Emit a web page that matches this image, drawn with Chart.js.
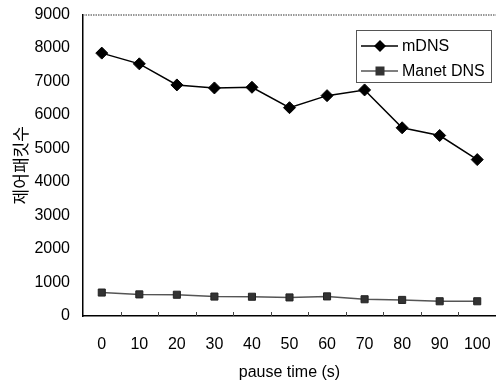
<!DOCTYPE html>
<html><head><meta charset="utf-8">
<script src="https://cdn.jsdelivr.net/npm/chart.js@4/dist/chart.umd.min.js"></script>
<style>html,body{margin:0;padding:0;background:#fff}canvas{display:block}</style>
</head><body>
<canvas id="c" width="496" height="387"></canvas>
<script>
const categories = ['0','10','20','30','40','50','60','70','80','90','100'];
const mdns = [7850, 7530, 6900, 6810, 6830, 6220, 6580, 6750, 5620, 5390, 4670];
const manetDns = [700, 645, 635, 580, 575, 555, 585, 500, 480, 440, 440];
const yTicks = [0,1000,2000,3000,4000,5000,6000,7000,8000,9000];
const seriesNames = ['mDNS', 'Manet DNS'];

const FONT = '"Liberation Sans Narrow","Liberation Sans",Arial,sans-serif';

const frame = {
  id: 'frame',
  afterDatasetsDraw(chart) {
    const {ctx, chartArea: a, scales: {x}} = chart;
    ctx.save();
    ctx.strokeStyle = '#777';
    ctx.lineWidth = 1.5;
    ctx.setLineDash([1.5, 1]);
    ctx.beginPath(); ctx.moveTo(a.left, a.top + 0.5); ctx.lineTo(a.right, a.top + 0.5); ctx.stroke();
    ctx.setLineDash([]);
    ctx.strokeStyle = '#444'; ctx.lineWidth = 1;
    for (let i = 1; i < categories.length; i++) {
      const px = Math.round(x.getPixelForValue(i - 0.5)) + 0.5;
      ctx.beginPath(); ctx.moveTo(px, a.bottom); ctx.lineTo(px, a.bottom - 4); ctx.stroke();
    }
    const bx = 356, by = 30, bw = 135, bh = 52;
    ctx.fillStyle = '#fff';
    ctx.fillRect(bx, by, bw, bh);
    ctx.strokeStyle = '#555'; ctx.lineWidth = 1;
    ctx.strokeRect(bx + 0.5, by + 0.5, bw, bh);
    chart.data.datasets.forEach((ds, i) => {
      const yy = by + 16 + i * 25;
      ctx.strokeStyle = ds.borderColor; ctx.lineWidth = ds.borderWidth;
      ctx.beginPath(); ctx.moveTo(bx + 5, yy); ctx.lineTo(bx + 42, yy); ctx.stroke();
      ctx.fillStyle = ds.pointBackgroundColor;
      const cx = bx + 24;
      if (ds.pointStyle === 'rectRot') {
        ctx.beginPath(); ctx.moveTo(cx, yy - 6); ctx.lineTo(cx + 6, yy); ctx.lineTo(cx, yy + 6); ctx.lineTo(cx - 6, yy); ctx.closePath(); ctx.fill();
      } else {
        ctx.fillRect(cx - 4.5, yy - 4.5, 9, 9);
      }
      ctx.fillStyle = '#000';
      ctx.font = '16px ' + FONT;
      ctx.textBaseline = 'middle';
      ctx.fillText(ds.label, bx + 46, yy + 1);
    });
    ctx.restore();
  }
};

new Chart(document.getElementById('c'), {
  type: 'line',
  data: {
    labels: categories,
    datasets: [
      { label: seriesNames[0], data: mdns, borderColor: '#000', borderWidth: 1.5,
        pointStyle: 'rectRot', pointRadius: 6, pointBackgroundColor: '#000', pointBorderColor: '#000', pointBorderWidth: 1 },
      { label: seriesNames[1], data: manetDns, borderColor: '#555', borderWidth: 1.5,
        pointStyle: 'rect', pointRadius: 5, pointBackgroundColor: '#333', pointBorderColor: '#222', pointBorderWidth: 1 }
    ]
  },
  options: {
    responsive: false, animation: false,
    layout: { autoPadding: false, padding: { top: 6, right: 0, left: 0, bottom: 0 } },
    plugins: { legend: { display: false }, tooltip: { enabled: false } },
    scales: {
      x: {
        type: 'category', offset: true,
        grid: { display: false, offset: true },
        border: { display: true, color: '#000', width: 1.5 },
        ticks: { color: '#000', font: { family: FONT, size: 16 }, padding: 11, maxRotation: 0 },
        title: { display: true, text: 'pause time (s)', color: '#000', font: { family: FONT, size: 16 }, padding: { top: 6, bottom: 5 } },
        afterFit(s) { s.height = 71; s.paddingLeft = 0; s.paddingRight = 0; }
      },
      y: {
        min: 0, max: 9000,
        afterBuildTicks(s) { s.ticks = yTicks.map(v => ({ value: v })); },
        grid: { display: false },
        border: { display: true, color: '#000', width: 1.5 },
        ticks: { color: '#000', font: { family: FONT, size: 16 }, padding: 5, callback: v => String(v) },
        title: { display: true, text: '제어패킷수', color: '#000', font: { family: '"Noto Sans CJK KR",sans-serif', size: 17 }, padding: { top: 10, bottom: 0 } },
        afterFit(s) { s.width = 83; }
      }
    }
  },
  plugins: [frame]
});
</script>
</body></html>
